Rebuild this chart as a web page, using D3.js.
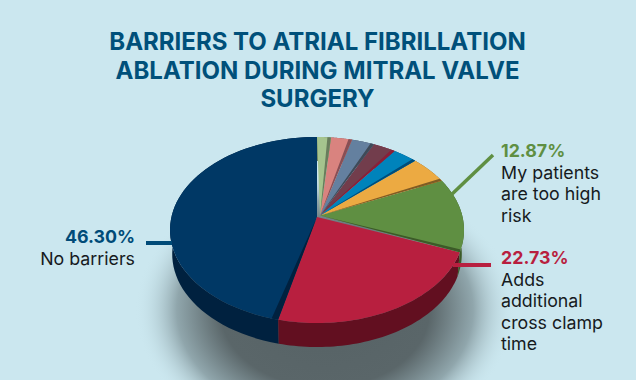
<!DOCTYPE html>
<html>
<head>
<meta charset="utf-8">
<script src="https://cdn.jsdelivr.net/npm/d3@7"></script>
<style>
	html, body { margin: 0; padding: 0; background: #cbe7ef; }
	svg { display: block; font-family: Inter, sans-serif; }
</style>
</head>
<body>
<div id="chart"></div>
<script>
// slices run counter-clockwise from 12 o'clock
const values = [46.30, 22.73, 12.87, 4.90, 3.10, 2.85, 2.85, 2.65, 1.75];
const faceColors = ['#003865', '#b81f3f', '#5f8f42', '#ecaa42', '#0083bb', '#723d4c', '#64809f', '#d9837f', '#a5c48e'];
const wallColors = ['#00213f', '#620f20', '#3c5a28', '#7f5c24', '#004d7a', '#8a1f38', '#3f4a58', '#874f55', '#687d5c'];
const titleLines = ['BARRIERS TO ATRIAL FIBRILLATION', 'ABLATION DURING MITRAL VALVE', 'SURGERY'];
const callouts = [
	{ index: 0, lines: ['No barriers'] },
	{ index: 1, lines: ['Adds', 'additional', 'cross clamp', 'time'] },
	{ index: 2, lines: ['My patients', 'are too high', 'risk'] },
];

const width = 636;
const height = 380;
const tilt = 0.14; // how far the apex sits above the middle of the ellipse
const depth = 24;

const svg = d3.select('#chart').append('svg')
	.attr('width', width)
	.attr('height', height);

// shadow under the pie
const defs = svg.append('defs');
const shadow = defs.append('radialGradient').attr('id', 'pie-shadow');
shadow.append('stop').attr('offset', '0%').attr('stop-color', '#566265');
shadow.append('stop').attr('offset', '55%').attr('stop-color', '#5a6669');
shadow.append('stop').attr('offset', '78%').attr('stop-color', '#90a6ac');
shadow.append('stop').attr('offset', '100%').attr('stop-color', '#cbe7ef').attr('stop-opacity', 0);

svg.append('rect')
	.attr('width', width)
	.attr('height', height)
	.attr('fill', '#cbe7ef');
svg.append('ellipse')
	.attr('cx', 325)
	.attr('cy', 310)
	.attr('rx', 190)
	.attr('ry', 140)
	.attr('fill', 'url(#pie-shadow)');

// title
svg.append('g').selectAll('text')
	.data(titleLines)
	.enter().append('text')
		.attr('x', 317.5)
		.attr('y', (d, i) => 50 + i * 28.5)
		.attr('text-anchor', 'middle')
		.style('font-size', '24px')
		.style('font-weight', 700)
		.style('fill', '#00507a')
		.text(d => d);

// flat pie to screen: a perspective map that keeps the disc an ellipse
const x = d3.scaleLinear().domain([-1, 1]).range([170, 464]);
const y = d3.scaleLinear().domain([-1, 1]).range([323, 137]);
const project = (u, v) => {
	const w = 1 + tilt * v;
	return [x(u * Math.sqrt(1 - tilt * tilt) / w), y((v + tilt) / w)];
};
const line = d3.line();

const arcPoints = (a0, a1) => d3.range(0, 61).map((i) => {
	const a = a0 + (a1 - a0) * i / 60;
	return project(Math.sin(a), Math.cos(a));
});
const apex = project(0, 0);
// the small slices are pulled out a touch, so they meet right of the navy tip
const wedge = (a0, a1, tip = apex) => `${line([tip, ...arcPoints(a0, a1)])}Z`;
const tipOf = d => (d.index < 2 ? apex : [apex[0] + 3, apex[1] - 1.5]);
const wall = (a0, a1) => {
	const top = arcPoints(a0, a1);
	const bottom = top.map(p => [317 + (p[0] - 317) * 0.985, p[1] + depth]).reverse();
	return `${line([...top, ...bottom])}Z`;
};

const slices = d3.pie().sort(null).startAngle(0).endAngle(-2 * Math.PI)(values);
const perPercent = (2 * Math.PI) / 100;

const pie = svg.append('g');
pie.selectAll('.wall')
	.data(slices)
	.enter().append('path')
		.attr('class', 'wall')
		.attr('d', d => wall(d.startAngle, d.endAngle))
		.attr('fill', d => wallColors[d.index]);
pie.selectAll('.face')
	.data(slices)
	.enter().append('path')
		.attr('class', 'face')
		.attr('d', d => wedge(d.startAngle, d.endAngle, tipOf(d)))
		.attr('fill', d => faceColors[d.index]);

// dark inner side of each slice, the big navy one shows it on the far edge
pie.selectAll('.side')
	.data(slices.filter(d => d.index !== 1))
	.enter().append('path')
		.attr('class', 'side')
		.attr('d', (d) => {
			if (d.index === 0) return wedge(d.endAngle + 0.65 * perPercent, d.endAngle);
			return wedge(d.startAngle, d.startAngle - 0.45 * perPercent, tipOf(d));
		})
		.attr('fill', d => wallColors[d.index]);

// leader lines
const leaders = [
	{ index: 0, from: [146, 243], to: [172, 243], w: 4 },
	{ index: 1, from: [453, 265], to: [491, 265], w: 4 },
	{ index: 2, from: [450, 196], to: [493, 155], w: 3.5 },
];
svg.append('g').selectAll('line')
	.data(leaders)
	.enter().append('line')
		.attr('x1', d => d.from[0])
		.attr('y1', d => d.from[1])
		.attr('x2', d => d.to[0])
		.attr('y2', d => d.to[1])
		.attr('stroke-width', d => d.w)
		.attr('stroke', d => (d.index === 0 ? '#004b78' : faceColors[d.index]));

// labels
const labelPos = { 0: [135, 243, 'end'], 1: [501, 264, 'start'], 2: [501, 157, 'start'] };
const labels = svg.append('g').selectAll('g')
	.data(callouts)
	.enter().append('g')
		.attr('transform', d => `translate(${labelPos[d.index][0]}, ${labelPos[d.index][1]})`)
		.style('text-anchor', d => labelPos[d.index][2]);
labels.append('text')
	.style('font-size', '17.8px')
	.style('font-weight', 700)
	.style('fill', d => (d.index === 0 ? '#004b78' : faceColors[d.index]))
	.text(d => `${values[d.index].toFixed(2)}%`);
labels.selectAll('.desc')
	.data(d => d.lines)
	.enter().append('text')
		.attr('class', 'desc')
		.attr('y', (d, i) => 21.5 * (i + 1))
		.style('font-size', '17.8px')
		.style('fill', '#161a1d')
		.text(d => d);
</script>
</body>
</html>
